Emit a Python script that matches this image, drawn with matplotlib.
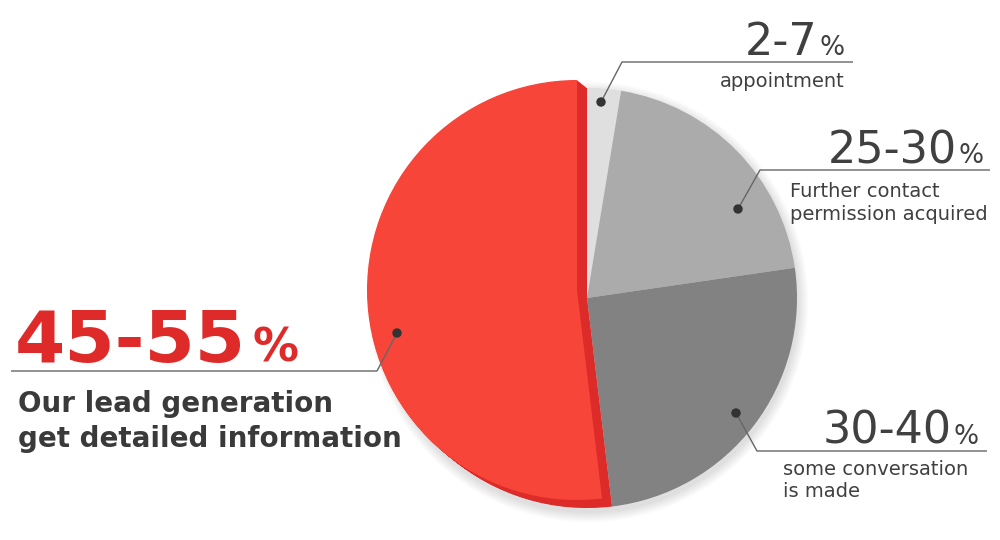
import numpy as np
import matplotlib
matplotlib.use("Agg")
import matplotlib.pyplot as plt
from matplotlib.patches import Wedge, Circle

# data (clockwise from 12 o'clock)
labels = ["2-7", "25-30", "30-40", "45-55"]
shares = [2.6, 20.1, 25.4, 51.9]
captions = ["appointment",
            "Further contact\npermission acquired",
            "some conversation\nis made",
            "Our lead generation\nget detailed information"]
colors = ["#dfdfdf", "#ababab", "#828282", "#f74539"]

red_dark = "#dc2b29"
red_text = "#df2a2a"
txt = "#404040"
line_c = "#666666"

H = 540
fig = plt.figure(figsize=(10, 5.4), dpi=100)
ax = fig.add_axes([0, 0, 1, 1])

cx, cy, r = 587, H - 298, 210

# soft shadow behind the pie
for i in range(8):
    ax.add_patch(Circle((cx + 1, cy - 4), r + 1 + i * 1.3, color="k",
                        alpha=0.014, lw=0, zorder=0))

wedges, _ = ax.pie(shares, colors=colors, startangle=90, counterclock=False,
                   center=(cx, cy), radius=r, frame=True,
                   wedgeprops=dict(linewidth=0))
for w in wedges:
    w.set_zorder(1)

# red slice lifted with a dark side
red = wedges[3]
red.set_facecolor(red_dark)
th1, th2 = red.theta1, red.theta2
dx, dy = -10, 8
for t in np.linspace(0, 1, 16)[1:-1]:
    ax.add_patch(Wedge((cx + dx * t, cy + dy * t), r, th1, th2,
                       color=red_dark, lw=0, zorder=2))
ax.add_patch(Wedge((cx + dx, cy + dy), r, th1, th2, color=colors[3],
                   lw=0, zorder=3))

ax.set_xlim(0, 1000)
ax.set_ylim(0, H)
ax.axis("off")

fig.canvas.draw()
rend = fig.canvas.get_renderer()
inv = ax.transData.inverted()


def leader(pts, dot):
    xs = [p[0] for p in pts]
    ys = [H - p[1] for p in pts]
    ax.plot(xs, ys, color=line_c, lw=1, zorder=5, solid_capstyle="butt")
    ax.add_patch(Circle((dot[0], H - dot[1]), 4, color="#333333", zorder=6))


def gray_label(num, x_right, base, size=32, psize=19):
    p = ax.text(x_right, H - base, "%", ha="right", va="baseline",
                fontsize=psize, color=txt, zorder=6)
    bb = p.get_window_extent(rend)
    x0 = inv.transform((bb.x0, 0))[0]
    ax.text(x0 - 2, H - base, num, ha="right", va="baseline",
            fontsize=size, color=txt, zorder=6)


def caption(text, x, base, step, ha="left", size=14, weight="normal", color=txt):
    for k, line in enumerate(text.split("\n")):
        ax.text(x, H - (base + k * step), line, ha=ha, va="baseline",
                fontsize=size, color=color, fontweight=weight, zorder=6)


# 2-7 %
leader([(853, 62), (622, 62), (601, 102)], (601, 102))
gray_label(labels[0], 845, 55)
caption(captions[0], 845, 87, 23, ha="right")

# 25-30 %
leader([(990, 170), (760, 170), (738, 209)], (738, 209))
gray_label(labels[1], 984, 163)
caption(captions[1], 790, 197, 23)

# 30-40 %
leader([(987, 451), (757, 451), (736, 413)], (736, 413))
gray_label(labels[2], 979, 444)
caption(captions[2], 783, 475, 22)

# 45-55 %
leader([(11, 371), (377, 371), (397, 333)], (397, 333))
n = ax.text(15, H - 362, labels[3], ha="left", va="baseline", fontsize=52,
            fontweight="bold", color=red_text, zorder=6)
bb = n.get_window_extent(rend)
x1 = inv.transform((bb.x1, 0))[0]
ax.text(x1 + 6, H - 362, "%", ha="left", va="baseline", fontsize=33,
        fontweight="bold", color=red_text, zorder=6)
caption(captions[3], 18, 412, 35, size=20, weight="bold", color="#3a3a3a")

fig.savefig("out.png", dpi=100, facecolor="white")
